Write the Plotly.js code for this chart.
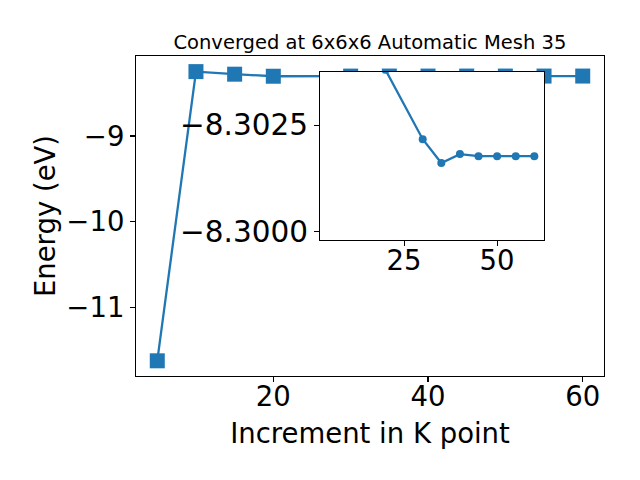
<!DOCTYPE html>
<html><head><meta charset="utf-8">
<script src="https://cdn.plot.ly/plotly-3.0.1.min.js"></script>
<style>html,body{margin:0;padding:0;background:#fff}#chart{width:640px;height:480px}</style>
</head><body><div id="chart"></div>
<script>
const kPoints = [5, 10, 15, 20, 30, 35, 40, 45, 50, 55, 60];
const energies = [-11.62, -8.25, -8.28, -8.3038, -8.30217, -8.30161, -8.30182, -8.30177, -8.30177, -8.30177, -8.30177];
const insetStart = 3;
const mainYTicks = [-11, -10, -9];
const insetXTicks = [25, 50];
const insetYTicks = [-8.3025, -8.3000];
const insetYTickText = ['\u22128.3025', '\u22128.3000'];
const titleText = 'Converged at 6x6x6 Automatic Mesh 35';

const blue = '#1f77b4';
const font = 'DejaVu Sans, sans-serif';
const tickFont = {family: font, size: 27.5, color: '#000'};

const traces = [
  {x: kPoints, y: energies, xaxis: 'x', yaxis: 'y', mode: 'lines+markers',
   line: {color: blue, width: 2.3}, marker: {symbol: 'square', size: 15, color: blue}},
  {x: kPoints.slice(insetStart), y: energies.slice(insetStart), xaxis: 'x2', yaxis: 'y2', mode: 'lines+markers',
   line: {color: blue, width: 2.3}, marker: {symbol: 'circle', size: 8, color: blue}, cliponaxis: true}
];

const axBase = {showgrid: false, zeroline: false, showline: true, linecolor: '#000', linewidth: 1.1,
  mirror: true, ticks: 'outside', ticklen: 5, tickwidth: 1.1, tickcolor: '#000', tickfont: tickFont};

const layout = {
  width: 640, height: 480, showlegend: false,
  paper_bgcolor: '#fff', plot_bgcolor: '#fff',
  margin: {l: 136, r: 36, t: 56, b: 104},
  title: {text: titleText, font: {family: font, size: 19.5, color: '#000'}, x: 0.578, xanchor: 'center', y: 0.912, yanchor: 'middle'},
  xaxis: Object.assign({}, axBase, {domain: [0, 1], range: [2.25, 62.75], tickvals: [20, 40, 60], ticklabelstandoff: -9,
    automargin: true,
    title: {text: 'Increment in K point', font: {family: font, size: 27.5, color: '#000'}, standoff: 12}}),
  yaxis: Object.assign({}, axBase, {domain: [0, 1], range: [-11.797, -8.068], tickvals: mainYTicks,
    ticktext: mainYTicks.map(v => '\u2212' + Math.abs(v)), automargin: true,
    title: {text: 'Energy (eV)', font: {family: font, size: 27.5, color: '#000'}, standoff: 2}}),
  xaxis2: Object.assign({}, axBase, {domain: [0.3932, 0.8718], anchor: 'y2', range: [2.4, 62.6], tickvals: insetXTicks, ticklabelstandoff: -9}),
  yaxis2: Object.assign({}, axBase, {domain: [0.425, 0.95], anchor: 'x2', range: [-8.2998, -8.30375],
    tickvals: insetYTicks, ticktext: insetYTickText, tickfont: {family: font, size: 29.5, color: '#000'}})
};

Plotly.newPlot('chart', traces, layout, {staticPlot: true});
</script>
</body></html>
